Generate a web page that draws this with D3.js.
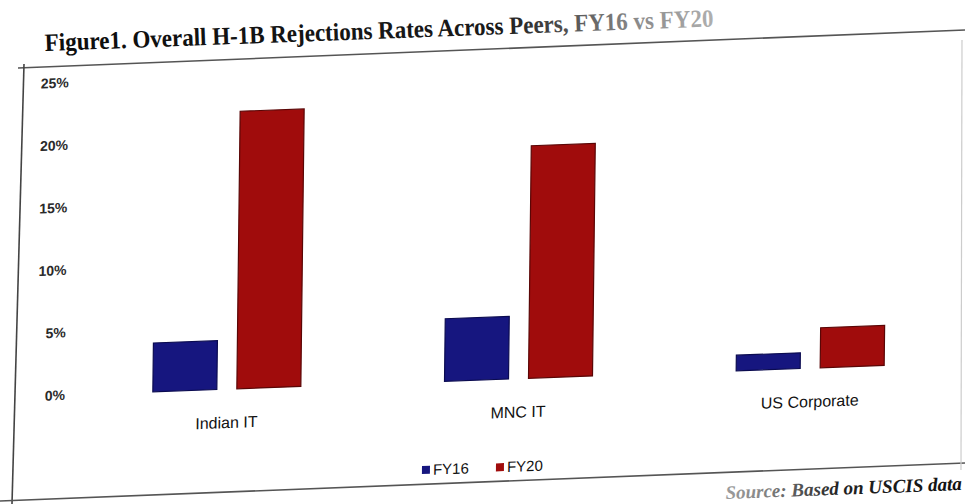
<!DOCTYPE html>
<html>
<head>
<meta charset="utf-8">
<script src="https://cdn.jsdelivr.net/npm/d3@7"></script>
<style>
  html, body { margin: 0; padding: 0; background: #ffffff; overflow: hidden; }
  svg { display: block; }
</style>
</head>
<body>
<div id="chart"></div>
<script>
// ---- data ----
const categories = ["Indian IT", "MNC IT", "US Corporate"];
const seriesNames = ["FY16", "FY20"];
const fy16 = [3.9, 5.0, 1.25];
const fy20 = [22.2, 18.6, 3.2];
const yTickValues = [0, 5, 10, 15, 20, 25];
const yTickLabels = ["0%", "5%", "10%", "15%", "20%", "25%"];
const seriesColors = ["#16167f", "#a00c0c"];
const titleText = "Figure1. Overall H-1B Rejections Rates Across Peers, FY16 vs FY20";
const sourceText = "Source: Based on USCIS data";

const W = 965, H = 504;
const svg = d3.select("#chart").append("svg").attr("width", W).attr("height", H);

const defs = svg.append("defs");
const tg = defs.append("linearGradient").attr("id", "titleFade")
  .attr("gradientUnits", "userSpaceOnUse").attr("x1", 0).attr("x2", 800).attr("y1", 0).attr("y2", 0);
tg.append("stop").attr("offset", "0%").attr("stop-color", "#0d0d0d");
tg.append("stop").attr("offset", "62%").attr("stop-color", "#1a1a1a");
tg.append("stop").attr("offset", "80%").attr("stop-color", "#888");
tg.append("stop").attr("offset", "100%").attr("stop-color", "#d0d0d0");
const sg = defs.append("linearGradient").attr("id", "srcFade")
  .attr("gradientUnits", "userSpaceOnUse").attr("x1", 650).attr("x2", 965).attr("y1", 0).attr("y2", 0);
sg.append("stop").attr("offset", "0%").attr("stop-color", "#c8c8c8");
sg.append("stop").attr("offset", "35%").attr("stop-color", "#888");
sg.append("stop").attr("offset", "60%").attr("stop-color", "#222");
sg.append("stop").attr("offset", "100%").attr("stop-color", "#111");

// ---- frame (photographed page border) ----
const frame = svg.append("g").attr("fill", "none");
frame.append("path").attr("d", "M18,68 L965,30").attr("stroke", "#555").attr("stroke-width", 1.6);
frame.append("path").attr("d", "M24,64 L12,504").attr("stroke", "#444").attr("stroke-width", 1.6);
frame.append("path").attr("d", "M0,501 L965,463").attr("stroke", "#555").attr("stroke-width", 1.6);
frame.append("path").attr("d", "M962,40 L961,470").attr("stroke", "#ccc").attr("stroke-width", 1.2);

// ---- title ----
svg.append("g")
  .attr("transform", "rotate(-2.1 45 51) translate(45,51) scale(0.92,1)")
  .append("text")
  .attr("x", 0).attr("y", 0)
  .attr("font-family", "'Liberation Serif', 'Times New Roman', serif")
  .attr("font-weight", "bold")
  .attr("font-size", 25)
  .attr("fill", "url(#titleFade)")
  .text(titleText);

// ---- source ----
svg.append("text")
  .attr("x", 962).attr("y", 490)
  .attr("text-anchor", "end")
  .attr("transform", "rotate(-2.2 962 490)")
  .attr("font-family", "'Liberation Serif', 'Times New Roman', serif")
  .attr("font-weight", "bold")
  .attr("font-style", "italic")
  .attr("font-size", 19)
  .attr("fill", "url(#srcFade)")
  .text(sourceText);

// ---- chart group with the photo's skew ----
const cx = 480, cy = 380;
const g = svg.append("g")
  .attr("transform", `translate(${cx},${cy}) matrix(1,-0.036,-0.012,1,0,0) translate(${-cx},${-cy})`);

const y = d3.scaleLinear().domain([0, 25]).range([380, 67.5]);
const x0 = d3.scaleBand().domain(categories).range([81, 956]).paddingInner(0.4926).paddingOuter(0.2463);
const x1 = d3.scaleBand().domain(seriesNames).range([0, x0.bandwidth()]).paddingInner(0.238).paddingOuter(0);

// y axis labels (no line, no ticks)
const yAxis = d3.axisLeft(y).tickValues(yTickValues).tickFormat((d, i) => yTickLabels[i]).tickSize(0).tickPadding(0);
const yg = g.append("g").attr("transform", "translate(65,0)").call(yAxis);
yg.select(".domain").remove();
yg.selectAll("text")
  .attr("font-family", "'Liberation Sans', Arial, sans-serif")
  .attr("font-weight", "bold")
  .attr("font-size", 14)
  .attr("fill", "#2a2a2a");

// bars
const rows = categories.map((c, i) => ({ cat: c, vals: [fy16[i], fy20[i]] }));
const groups = g.selectAll("g.cat").data(rows).join("g")
  .attr("class", "cat")
  .attr("transform", d => `translate(${x0(d.cat)},0)`);
groups.selectAll("rect").data(d => d.vals.map((v, j) => ({ s: seriesNames[j], v, j }))).join("rect")
  .attr("x", d => x1(d.s))
  .attr("width", x1.bandwidth())
  .attr("y", d => y(d.v))
  .attr("height", d => y(0) - y(d.v))
  .attr("fill", d => seriesColors[d.j])
  .attr("stroke", d => d.j === 0 ? "#0b0b50" : "#5a0606")
  .attr("stroke-width", 1.2);

// category axis labels
const xAxis = d3.axisBottom(x0).tickSize(0).tickPadding(0);
const xg = g.append("g").attr("transform", "translate(0,380)").call(xAxis);
xg.select(".domain").remove();
xg.selectAll("text")
  .attr("dy", null)
  .attr("y", 39)
  .attr("font-family", "'Liberation Sans', Arial, sans-serif")
  .attr("font-size", 16)
  .attr("fill", "#111");

// legend
const legendX = [423, 497];
const lg = g.append("g").attr("transform", "translate(0,468)");
const items = lg.selectAll("g").data(seriesNames).join("g")
  .attr("transform", (d, i) => `translate(${legendX[i]},0)`);
items.append("rect").attr("x", 0).attr("y", -4).attr("width", 8).attr("height", 8)
  .attr("fill", (d, i) => seriesColors[i]);
items.append("text").attr("x", 11).attr("y", 5)
  .attr("font-family", "'Liberation Sans', Arial, sans-serif")
  .attr("font-size", 15)
  .attr("fill", "#111")
  .text(d => d);
</script>
</body>
</html>
